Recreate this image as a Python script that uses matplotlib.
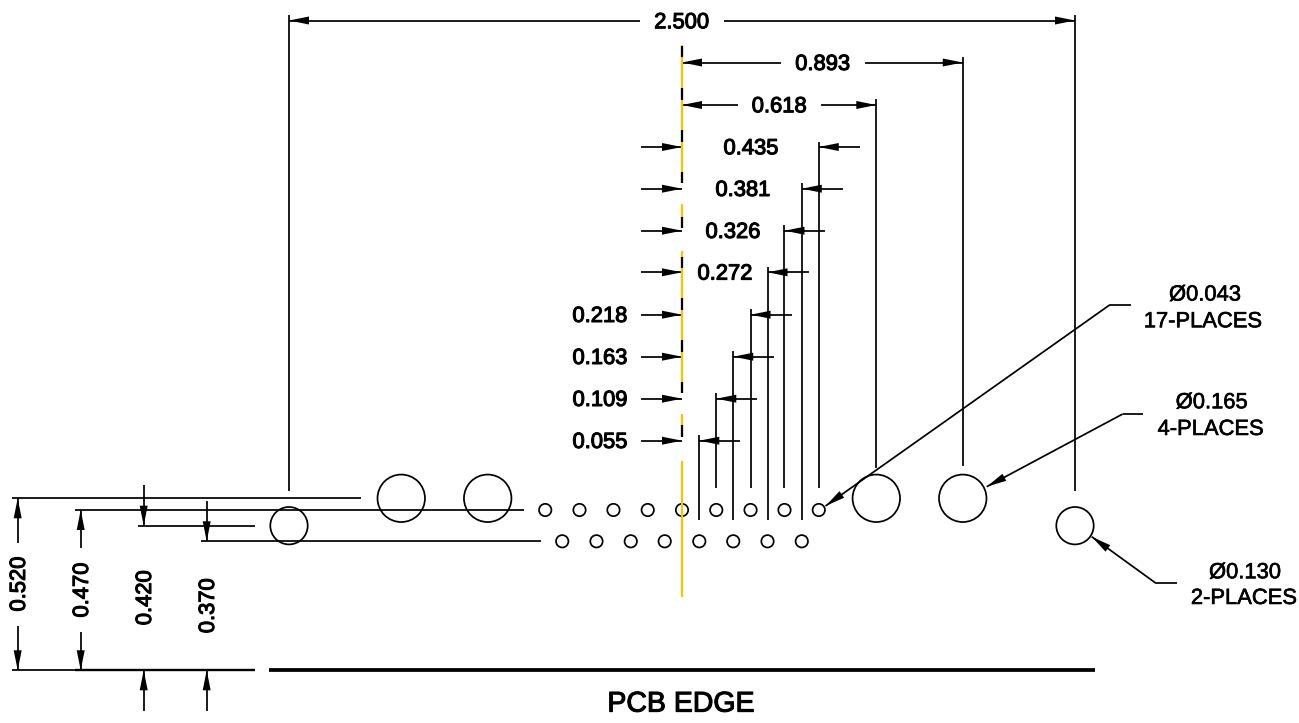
import numpy as np
import matplotlib
matplotlib.use("Agg")
from matplotlib import pyplot as plt
from matplotlib.patches import Circle
import matplotlib.patheffects as pe

plt.rcParams["font.family"] = ["Liberation Sans", "DejaVu Sans"]

# hole offsets from the centre line, inches
top_row = [-0.435, -0.326, -0.218, -0.109, 0, 0.109, 0.218, 0.326, 0.435]
bottom_row = [-0.381, -0.272, -0.163, -0.055, 0.055, 0.163, 0.272, 0.381]
big_holes = [-0.893, -0.618, 0.618, 0.893]
mount_holes = [-1.25, 1.25]
small_dia, big_dia, mount_dia = 0.043, 0.165, 0.130

# horizontal dimensions
pitch_values = [0.435, 0.381, 0.326, 0.272, 0.218, 0.163, 0.109, 0.055]
pitch_labels = ["0.435", "0.381", "0.326", "0.272", "0.218", "0.163", "0.109", "0.055"]
pitch_rows = [147, 188.7, 230.7, 272.3, 314.7, 356.7, 398.7, 440.7]
pitch_label_x = [751, 743, 733, 725, 600, 600, 600, 600]
pitch_ends = [488, 520, 488, 520, 488, 520, 488, 520]

# vertical dimensions
height_labels = ["0.520", "0.470", "0.420", "0.370"]
height_x = [17.7, 80.7, 143.7, 206.7]
height_levels = [498.3, 510, 525.7, 541.3]
height_label_y = [584, 590, 597.7, 605.7]

# centre line pieces, drawing y positions
orange_parts = [(45, 183), (204, 228), (251, 393), (414, 437), (461, 597)]
black_parts = [(45.5, 57), (88, 100), (130, 142), (172, 183), (217, 228),
               (257, 268), (298, 310), (340, 352), (382, 393), (425, 437)]

SCALE = 314.4   # px per inch
X0 = 682
EDGE = 670.3
DRAWN = 0.915   # circles are drawn a bit under nominal size
LW = 1.25
FONT = 15.8
ORANGE = "#FFC000"

fig = plt.figure(figsize=(12.99, 7.23), dpi=100)
ax = fig.add_axes([0, 0, 1, 1])
ax.set_xlim(0, 1299)
ax.set_ylim(723, 0)
ax.axis("off")


def xpos(inch):
    return X0 + inch * SCALE


def line(x, y, lw=LW, color="black", zorder=2):
    ax.plot(x, y, color=color, lw=lw, solid_capstyle="butt", zorder=zorder)


def arrow(tip, tail, length=20, width=8):
    tip = np.array(tip, dtype=float)
    tail = np.array(tail, dtype=float)
    line([tip[0], tail[0]], [tip[1], tail[1]])
    d = (tail - tip) / np.hypot(*(tail - tip))
    n = np.array([-d[1], d[0]])
    base = tip + d * length
    pts = np.array([tip, base + n * width / 2, base - n * width / 2])
    ax.fill(pts[:, 0], pts[:, 1], color="black", lw=0, zorder=3)


def label(x, y, s, size=FONT, rotation=0, stroke=0.8):
    off = size * 100 / 72 * 0.358 - 0.6
    if rotation:
        x = x + off
    else:
        y = y + off
    t = ax.text(x, y, s, fontsize=size, ha="center", va="baseline", rotation=rotation,
                rotation_mode="anchor", color="black", zorder=5)
    if stroke:
        t.set_path_effects([pe.withStroke(linewidth=stroke, foreground="black")])


def hole(inch, y, dia):
    ax.add_patch(Circle((xpos(inch), y), dia * DRAWN * SCALE / 2, fill=False, ec="black", lw=LW, zorder=2))


# holes
for h in top_row:
    hole(h, 510, small_dia)
for h in bottom_row:
    hole(h, 541.3, small_dia)
for h in big_holes:
    hole(h, 498.3, big_dia)
for h in mount_holes:
    hole(h, 525.7, mount_dia)

# centre line
for a, b in orange_parts:
    line([X0, X0], [a, b], lw=1.6, color=ORANGE, zorder=4)
for a, b in black_parts:
    line([X0, X0], [a, b], lw=1.6, zorder=4)

# overall width
line([xpos(-1.25)] * 2, [15, 491.3])
line([xpos(1.25)] * 2, [15, 491.3])
arrow((xpos(-1.25), 20.5), (640, 20.5))
arrow((xpos(1.25), 20.5), (724, 20.5))
label(681.7, 21, "2.500")

# big hole dimensions
line([xpos(0.893)] * 2, [57, 466])
line([xpos(0.618)] * 2, [99, 468])
arrow((X0, 62.5), (781, 62.5))
arrow((xpos(0.893), 62.5), (865, 62.5))
label(822.7, 62.7, "0.893")
arrow((X0, 105), (738, 105))
arrow((xpos(0.618), 105), (821, 105))
label(779.3, 105, "0.618")

# hole pitch dimensions
for val, txt, y, lx, end in zip(pitch_values, pitch_labels, pitch_rows, pitch_label_x, pitch_ends):
    x = xpos(val)
    line([x, x], [y - 5.5, end])
    arrow((X0, y), (641.5, y))
    arrow((x, y), (x + 41, y))
    label(lx, y, txt)

# heights from the PCB edge
line([12, 361], [498.3, 498.3])
line([75, 524], [510, 510])
line([138, 254.7], [525.7, 525.7])
line([201, 540.7], [541.3, 541.3])
line([12, 75], [EDGE, EDGE])
line([75, 254.7], [EDGE, EDGE], lw=1.7)
line([269, 1095], [EDGE, EDGE], lw=2.7)

arrow((height_x[0], height_levels[0]), (height_x[0], 542.7))
arrow((height_x[0], EDGE), (height_x[0], 626))
arrow((height_x[1], height_levels[1]), (height_x[1], 548.3))
arrow((height_x[1], EDGE), (height_x[1], 632))
for i in (2, 3):
    arrow((height_x[i], height_levels[i]), (height_x[i], height_levels[i] - 40.3))
    arrow((height_x[i], EDGE), (height_x[i], 710.7))
for txt, x, y in zip(height_labels, height_x, height_label_y):
    label(x, y, txt, rotation=90)

# leaders
arrow((825.5, 506), (1110, 304.7))
line([1110, 1131], [304.7, 304.7])
label(1205, 293.3, "Ø0.043", stroke=0.45)
label(1203, 320, "17-PLACES", stroke=0.45)

arrow((986.7, 486.7), (1122.7, 414))
line([1122.7, 1143], [414, 414])
label(1211.7, 401, "Ø0.165", stroke=0.45)
label(1210.7, 427.7, "4-PLACES", stroke=0.45)

arrow((1091.7, 536.7), (1156, 583.3))
line([1156, 1176.7], [583.3, 583.3])
label(1245, 571, "Ø0.130", stroke=0.45)
label(1244, 596.7, "2-PLACES", stroke=0.45)

label(681, 702, "PCB EDGE", size=20.5, stroke=0.8)

fig.savefig("out.png", dpi=100)
